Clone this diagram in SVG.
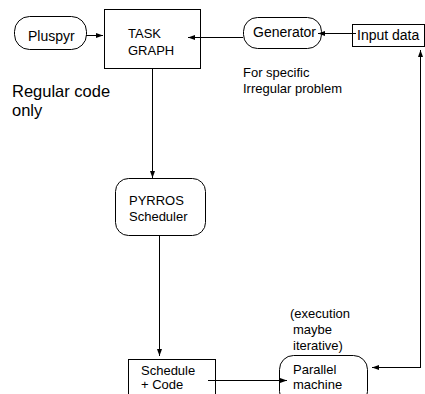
<svg xmlns="http://www.w3.org/2000/svg" width="425" height="394" viewBox="0 0 425 394">
<style>
.box{fill:#fff;stroke:#000;stroke-width:1}
.t{font-family:"Liberation Sans",Arial,sans-serif;font-size:13px;fill:#000}
.m{font-size:14px}
.big{font-family:"Liberation Sans",Arial,sans-serif;font-size:16.5px;fill:#000}
.c{fill:none;stroke:#000;stroke-width:1;marker-end:url(#ah)}
</style>
<defs>
<marker id="ah" markerWidth="7" markerHeight="6" refX="7" refY="3" orient="auto" markerUnits="userSpaceOnUse">
<path d="M0,0.5 L7,3 L0,5.5 Z" fill="#000"/>
</marker>
</defs>
<rect width="425" height="394" fill="#fff"/>
<g id="pluspyr"><rect class="box" x="14.5" y="16.5" width="72" height="33" rx="15"/><text class="t m" x="28" y="40.5">Pluspyr</text></g>
<g id="taskgraph"><rect class="box" x="104.5" y="9.5" width="96" height="59"/><text class="t" x="128" y="38">TASK</text><text class="t" x="128" y="55">GRAPH</text></g>
<g id="generator"><rect class="box" x="243.5" y="17.5" width="78" height="31" rx="14"/><text class="t m" x="253" y="37">Generator</text></g>
<g id="inputdata"><rect class="box" x="352.5" y="24.5" width="72" height="22"/><text class="t m" x="357" y="40">Input data</text></g>
<g id="regular"><text class="big" x="12" y="96.5">Regular code</text><text class="big" x="12" y="115.5">only</text></g>
<g id="irregular"><text class="t" x="243" y="77">For specific</text><text class="t" x="243" y="93">Irregular problem</text></g>
<g id="pyrros"><rect class="box" x="115.5" y="178.5" width="90" height="57" rx="13"/><text class="t" x="129" y="205">PYRROS</text><text class="t" x="129" y="221">Scheduler</text></g>
<g id="schedule"><rect class="box" x="128.5" y="359.5" width="87" height="40"/><text class="t" x="141" y="375">Schedule</text><text class="t" x="141" y="389">+ Code</text></g>
<g id="execution"><text class="t" x="290" y="318">(execution</text><text class="t" x="293" y="334">maybe</text><text class="t" x="293" y="350">iterative)</text></g>
<g id="parallel"><rect class="box" x="279.5" y="355.5" width="88" height="50" rx="14"/><text class="t" x="293" y="374">Parallel</text><text class="t" x="293" y="389">machine</text></g>
<g id="connectors">
<line class="c" x1="86" y1="35.5" x2="103" y2="35.5"/>
<line class="c" x1="243" y1="37.5" x2="188" y2="37.5"/>
<line class="c" x1="356" y1="33.5" x2="318" y2="33.5"/>
<line class="c" x1="152.5" y1="69" x2="152.5" y2="178"/>
<line class="c" x1="159.5" y1="236" x2="159.5" y2="356"/>
<line class="c" x1="208" y1="380.5" x2="287" y2="380.5"/>
<path class="c" d="M420.5,368 L420.5,50"/>
<path class="c" d="M420.5,367.5 L372,367.5"/>
</g>
</svg>
